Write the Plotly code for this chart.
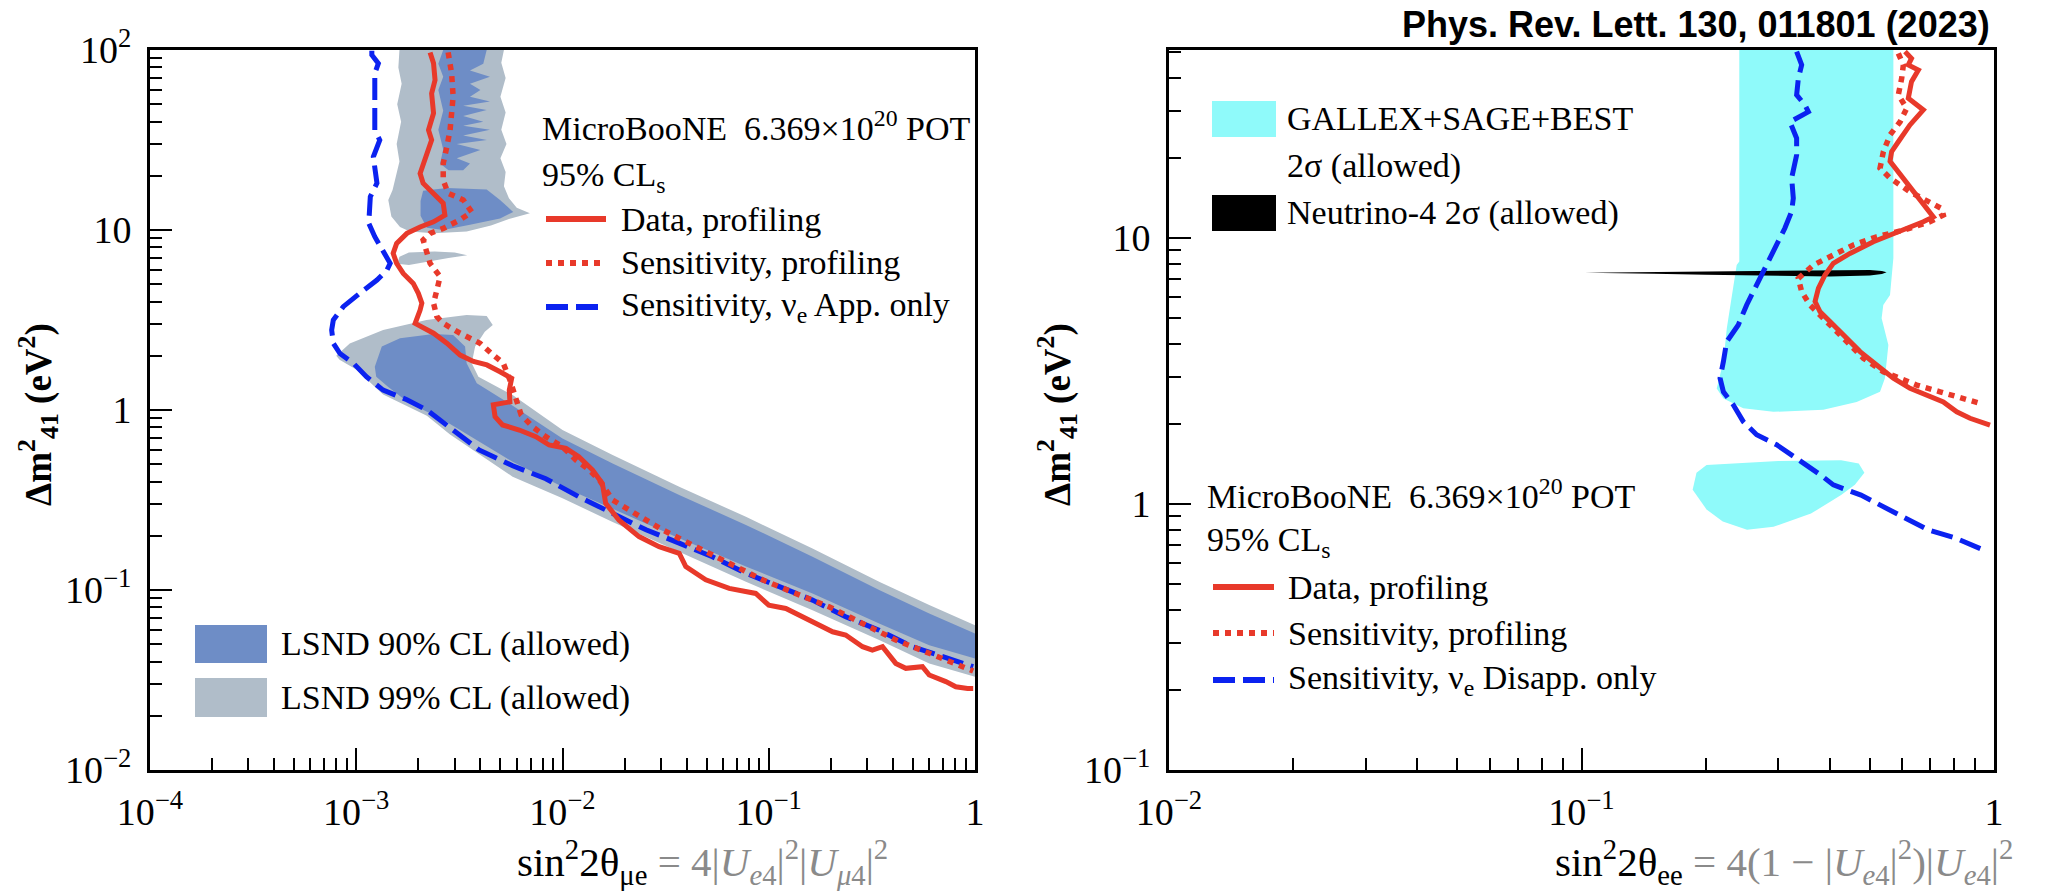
import plotly.graph_objects as go

W, H = 2054, 893
SERIF = "Liberation Serif"
RED = "#e8392a"
BLUE = "#0b22f0"
C90 = "#6e8dc6"
C99 = "#b0bdc9"
CYAN = "#8ffafa"

# ---------------- Left panel data (appearance) ----------------
lsnd99_band_x = [8.0e-4, 9.3e-4, 1.35e-3, 2.19e-3, 3.43e-3, 4.29e-3, 4.59e-3, 4.2e-3, 3.77e-3, 3.63e-3, 3.91e-3,
                 5.73e-3, 1e-2, 1.75e-2, 3.68e-2, 7.75e-2, 0.163, 0.343, 0.6, 1.0,
                 1.0, 0.6, 0.343, 0.163, 7.75e-2, 3.68e-2, 1.75e-2, 1e-2, 5.73e-3, 2.85e-3, 2.2e-3, 1.35e-3, 1.0e-3, 8.3e-4]
lsnd99_band_y = [2.0, 2.34, 2.78, 3.16, 3.37, 3.33, 2.97, 2.72, 2.25, 1.82, 1.53,
                 1.21, 0.774, 0.562, 0.375, 0.255, 0.170, 0.111, 0.0826, 0.0638,
                 0.033, 0.0391, 0.0527, 0.0773, 0.111, 0.163, 0.239, 0.323, 0.426, 0.73, 0.93, 1.22, 1.68, 1.9]

lsnd99_col_x = [1.62e-3, 1.60e-3, 1.66e-3, 1.58e-3, 1.65e-3, 1.57e-3, 1.62e-3, 1.55e-3, 1.50e-3, 1.43e-3, 1.48e-3,
                1.63e-3, 1.82e-3, 2.37e-3, 3.43e-3, 4.5e-3, 5.5e-3, 6.95e-3, 6.0e-3, 5.5e-3, 5.2e-3, 5.3e-3,
                5.0e-3, 5.35e-3, 5.05e-3, 5.3e-3, 5.0e-3, 5.3e-3, 5.05e-3, 5.2e-3]
lsnd99_col_y = [100, 80, 65, 50, 40, 30, 24, 19, 16.7, 14.7, 11.9,
                10.4, 9.8, 9.6, 9.8, 10.6, 11.5, 12.4, 13.3, 15, 17.5, 21,
                25, 30, 36, 45, 55, 70, 85, 100]

lsnd99_isl_x = [1.58e-3, 1.62e-3, 1.8e-3, 2.4e-3, 3.0e-3, 3.45e-3, 2.8e-3, 2.2e-3, 1.8e-3]
lsnd99_isl_y = [6.5, 7.1, 7.5, 7.6, 7.5, 7.25, 7.0, 6.7, 6.4]

lsnd90_band_x = [1.23e-3, 1.33e-3, 1.63e-3, 2.37e-3, 2.95e-3, 3.37e-3, 3.43e-3, 3.84e-3, 5.5e-3, 1e-2, 1.75e-2,
                 3.68e-2, 7.75e-2, 0.163, 0.343, 0.6, 1.0,
                 1.0, 0.6, 0.343, 0.163, 7.75e-2, 3.68e-2, 1.75e-2, 1e-2, 5.73e-3, 2.71e-3, 1.77e-3, 1.43e-3, 1.25e-3]
lsnd90_band_y = [1.74, 2.25, 2.5, 2.64, 2.61, 2.25, 1.82, 1.41, 1.09, 0.695, 0.505,
                 0.337, 0.23, 0.153, 0.1, 0.0741, 0.0574,
                 0.0417, 0.0494, 0.0652, 0.0957, 0.135, 0.194, 0.284, 0.375, 0.516, 0.865, 1.11, 1.34, 1.53]

lsnd90_col_x = [2.64e-3, 2.5e-3, 2.64e-3, 2.5e-3, 2.64e-3, 2.5e-3, 2.64e-3, 2.55e-3, 2.8e-3,
                3.3e-3, 3.56e-3, 3.07e-3, 4.0e-3, 3.07e-3, 4.3e-3, 3.3e-3, 4.45e-3, 3.3e-3, 4.13e-3, 3.3e-3,
                4.29e-3, 3.3e-3, 4.45e-3, 3.56e-3, 4.0e-3, 3.56e-3, 4.45e-3, 3.56e-3, 4.13e-3, 4.29e-3]
lsnd90_col_y = [100, 84, 71, 60, 46, 36, 28, 23.4, 21.5,
                21.5, 23.4, 25, 27.8, 30, 31.6, 33.5, 36, 38, 40, 43,
                46.4, 49, 51.7, 55, 60, 65, 71, 77, 84, 100]

lsnd90_blob_x = [2.11e-3, 2.75e-3, 4.29e-3, 4.98e-3, 5.77e-3, 4.98e-3, 3.56e-3, 2.64e-3, 2.2e-3, 2.05e-3, 2.05e-3]
lsnd90_blob_y = [16.5, 17.1, 16.8, 14.7, 12.6, 11.6, 10.7, 10.0, 10.3, 12.0, 14.5]

app_data_x = [2.28e-3, 2.37e-3, 2.41e-3, 2.32e-3, 2.37e-3, 2.24e-3, 2.32e-3, 2.16e-3, 2.04e-3, 2.11e-3, 2.37e-3,
              2.64e-3, 2.69e-3, 2.37e-3, 2.04e-3, 1.76e-3, 1.57e-3, 1.51e-3, 1.57e-3, 1.69e-3, 1.89e-3, 2.0e-3,
              2.08e-3, 2.04e-3, 1.93e-3, 2.11e-3, 2.37e-3, 2.75e-3, 3.19e-3, 3.7e-3, 4.3e-3, 4.98e-3, 5.67e-3,
              5.52e-3, 5.56e-3, 4.62e-3, 4.71e-3, 5.12e-3, 6.17e-3, 7.43e-3, 8.61e-3, 1.04e-2, 1.2e-2, 1.4e-2,
              1.56e-2, 1.62e-2, 1.88e-2, 2.35e-2, 2.94e-2, 3.68e-2, 3.96e-2, 4.95e-2, 6.43e-2, 8.65e-2, 0.1,
              0.121, 0.163, 0.204, 0.236, 0.285, 0.318, 0.356, 0.413, 0.462, 0.556, 0.6, 0.722, 0.807, 0.92, 0.98]
app_data_y = [97, 84.3, 68.1, 57.4, 44.5, 35.9, 31.6, 25.5, 20.6, 18.2, 16.0,
              14.1, 12.1, 11.1, 10.4, 9.58, 8.43, 7.42, 6.53, 5.74, 5.05, 4.45,
              3.92, 3.59, 3.03, 2.85, 2.67, 2.35, 2.02, 1.86, 1.78, 1.63, 1.50,
              1.29, 1.11, 1.07, 0.918, 0.826, 0.774, 0.711, 0.639, 0.612, 0.55, 0.464,
              0.391, 0.303, 0.244, 0.198, 0.174, 0.16, 0.135, 0.114, 0.102, 0.0957, 0.0824,
              0.079, 0.0667, 0.0586, 0.0562, 0.0484, 0.0464, 0.0484, 0.0391, 0.0367, 0.0375, 0.0337, 0.031, 0.029, 0.0284, 0.0284]

app_sens_x = [2.79e-3, 2.9e-3, 2.95e-3, 2.9e-3, 2.85e-3, 2.75e-3, 2.64e-3, 2.64e-3, 2.79e-3, 3.3e-3, 3.63e-3,
              3.19e-3, 2.64e-3, 2.28e-3, 2.11e-3, 2.28e-3, 2.55e-3, 2.46e-3, 2.37e-3, 2.46e-3, 2.64e-3, 3.19e-3,
              3.98e-3, 4.62e-3, 5.16e-3, 5.56e-3, 5.89e-3, 6.3e-3, 7.16e-3, 8.3e-3, 1e-2, 1.16e-2, 1.35e-2,
              1.51e-2, 1.75e-2, 2.1e-2, 3.05e-2, 4.43e-2, 6.43e-2, 9.33e-2, 0.135, 0.196, 0.285, 0.413, 0.6, 0.904, 0.98]
app_sens_y = [97, 74.1, 55.1, 44.5, 35.9, 29.0, 23.4, 18.9, 16.0, 14.7, 12.6,
              11.4, 10.2, 9.58, 8.8, 6.53, 5.5, 4.64, 3.92, 3.3, 3.03, 2.67,
              2.35, 2.02, 1.82, 1.47, 1.19, 0.94, 0.807, 0.711, 0.625, 0.528, 0.464,
              0.408, 0.316, 0.278, 0.216, 0.174, 0.14, 0.114, 0.0957, 0.0807, 0.0652, 0.0527, 0.0445, 0.0367, 0.0355]

app_only_x = [1.19e-3, 1.19e-3, 1.28e-3, 1.23e-3, 1.23e-3, 1.30e-3, 1.21e-3, 1.26e-3, 1.17e-3, 1.15e-3, 1.23e-3,
              1.35e-3, 1.46e-3, 1.41e-3, 1.26e-3, 1.04e-3, 8.65e-4, 7.74e-4, 7.6e-4, 7.74e-4, 8.34e-4, 9.68e-4,
              1.12e-3, 1.35e-3, 1.76e-3, 2.2e-3, 2.85e-3, 3.94e-3, 5.73e-3, 8.3e-3, 1.2e-2, 1.75e-2, 2.54e-2,
              3.68e-2, 5.33e-2, 7.75e-2, 0.112, 0.163, 0.236, 0.343, 0.498, 0.904, 0.98]
app_only_y = [99, 93.8, 84.3, 74.1, 35.9, 31.6, 25.5, 18.2, 15.3, 10.9, 9.18,
              7.74, 6.53, 6.0, 5.27, 4.45, 3.75, 3.16, 2.78, 2.35, 2.06, 1.82,
              1.53, 1.29, 1.14, 1.0, 0.79, 0.60, 0.49, 0.415, 0.33, 0.267, 0.216,
              0.182, 0.153, 0.124, 0.104, 0.0879, 0.071, 0.0598, 0.0484, 0.0391, 0.0375]

# ---------------- Right panel data (disappearance) ----------------
gallex_main_x = [0.2413, 0.2413, 0.2378, 0.2313, 0.2250, 0.2208, 0.2147, 0.2127, 0.2208, 0.2467, 0.2917,
                 0.3857, 0.4645, 0.5293, 0.544, 0.5545, 0.534, 0.539, 0.5597, 0.565, 0.5702, 0.5702]
gallex_main_y = [51, 8.15, 7.91, 5.93, 4.57, 3.43, 2.88, 2.72, 2.49, 2.29, 2.22,
                 2.26, 2.42, 2.64, 2.97, 3.96, 4.99, 5.6, 6.11, 7.05, 8.39, 51]

gallex_low_x = [0.201, 0.30, 0.426, 0.47, 0.485, 0.46, 0.426, 0.36, 0.292, 0.252, 0.22, 0.201, 0.186, 0.19]
gallex_low_y = [1.40, 1.45, 1.46, 1.42, 1.31, 1.18, 1.08, 0.92, 0.821, 0.80, 0.86, 0.953, 1.13, 1.31]

n4_x = [0.102, 0.15, 0.2, 0.3, 0.4, 0.5, 0.535, 0.549, 0.535, 0.5, 0.4, 0.3, 0.2, 0.15]
n4_y = [7.40, 7.45, 7.5, 7.55, 7.59, 7.58, 7.52, 7.43, 7.32, 7.22, 7.17, 7.2, 7.28, 7.34]

dis_data_x = [0.6085, 0.631, 0.6198, 0.6555, 0.631, 0.6198, 0.674, 0.6256, 0.5862, 0.5647, 0.5597, 0.5917,
              0.631, 0.674, 0.7126, 0.674, 0.5917, 0.5099, 0.4476, 0.4078, 0.3893, 0.3752, 0.3683, 0.3787,
              0.4003, 0.4311, 0.4734, 0.5194, 0.5702, 0.6256, 0.6995, 0.7537, 0.8121, 0.8746, 0.9779]
dis_data_y = [50.2, 47.3, 44.7, 42.8, 38.7, 33.5, 30.3, 26.6, 23.0, 21.1, 19.4, 17.3,
              15.4, 13.3, 12.0, 11.5, 10.6, 9.68, 8.75, 8.03, 7.26, 6.47, 5.77, 5.28,
              4.85, 4.32, 3.74, 3.33, 2.97, 2.72, 2.53, 2.42, 2.22, 2.10, 1.98]

dis_sens_x = [0.5862, 0.6029, 0.5973, 0.5862, 0.6142, 0.5917, 0.5597, 0.5392, 0.5293, 0.5597, 0.6256,
              0.6995, 0.7466, 0.7537, 0.6995, 0.6029, 0.5194, 0.456, 0.4078, 0.3648, 0.3355, 0.3418,
              0.3579, 0.3787, 0.4078, 0.4392, 0.4824, 0.5392, 0.5917, 0.6495, 0.7399, 0.8121, 0.9249]
dis_sens_y = [49.4, 44.7, 39.8, 34.5, 30.7, 27.3, 24.4, 21.1, 18.3, 16.8, 14.9,
              13.7, 12.9, 12.2, 11.5, 10.7, 10.1, 9.41, 8.63, 7.91, 7.05, 6.28,
              5.6, 5.14, 4.57, 4.07, 3.53, 3.14, 2.97, 2.80, 2.64, 2.53, 2.39]

dis_only_x = [0.3323, 0.3418, 0.3355, 0.3323, 0.3481, 0.3548, 0.3202, 0.3323, 0.3323, 0.3232, 0.3262,
              0.3232, 0.3113, 0.2917, 0.2759, 0.2658, 0.2514, 0.2399, 0.2248, 0.2208, 0.2167, 0.2208,
              0.2333, 0.2467, 0.2658, 0.2972, 0.3323, 0.3787, 0.4078, 0.476, 0.574, 0.692, 0.805, 0.936]
dis_only_y = [50.2, 44.7, 39.8, 34.5, 31.6, 29.8, 27.3, 23.7, 20.5, 16.8, 14.1,
              12.6, 10.9, 8.88, 7.46, 6.65, 5.6, 4.71, 4.07, 3.43, 2.97, 2.64,
              2.36, 2.04, 1.82, 1.67, 1.49, 1.29, 1.18, 1.08, 0.929, 0.80, 0.745, 0.675]

left_xticks = [1e-4, 1e-3, 1e-2, 1e-1, 1]
left_xlabels = ["10<sup>\u22124</sup>", "10<sup>\u22123</sup>", "10<sup>\u22122</sup>", "10<sup>\u22121</sup>", "1"]
left_yticks = [1e-2, 1e-1, 1, 10, 100]
left_ylabels = ["10<sup>\u22122</sup>", "10<sup>\u22121</sup>", "1", "10", "10<sup>2</sup>"]
right_xticks = [1e-2, 1e-1, 1]
right_xlabels = ["10<sup>\u22122</sup>", "10<sup>\u22121</sup>", "1"]
right_yticks = [0.1, 1, 10]
right_ylabels = ["10<sup>\u22121</sup>", "1", "10"]


def fx(p):
    return p / W


def fy(p):
    return 1 - p / H


fig = go.Figure()


def poly(x, y, color, xa, ya):
    fig.add_trace(go.Scatter(x=x, y=y, fill="toself", fillcolor=color, mode="lines",
                             line=dict(width=0, color=color), hoverinfo="skip",
                             showlegend=False, xaxis=xa, yaxis=ya))


def curve(x, y, color, dash, width, xa, ya):
    fig.add_trace(go.Scatter(x=x, y=y, mode="lines", line=dict(color=color, width=width, dash=dash),
                             hoverinfo="skip", showlegend=False, xaxis=xa, yaxis=ya))


DOT = "6px,6px"
DASH = "22px,8px"

# left panel
poly(lsnd99_band_x, lsnd99_band_y, C99, "x", "y")
poly(lsnd99_col_x, lsnd99_col_y, C99, "x", "y")
poly(lsnd99_isl_x, lsnd99_isl_y, C99, "x", "y")
poly(lsnd90_band_x, lsnd90_band_y, C90, "x", "y")
poly(lsnd90_col_x, lsnd90_col_y, C90, "x", "y")
poly(lsnd90_blob_x, lsnd90_blob_y, C90, "x", "y")
curve(app_only_x, app_only_y, BLUE, DASH, 5, "x", "y")
curve(app_sens_x, app_sens_y, RED, DOT, 5.5, "x", "y")
curve(app_data_x, app_data_y, RED, "solid", 5, "x", "y")

# right panel
poly(gallex_main_x, gallex_main_y, CYAN, "x2", "y2")
poly(gallex_low_x, gallex_low_y, CYAN, "x2", "y2")
poly(n4_x, n4_y, "black", "x2", "y2")
curve(dis_only_x, dis_only_y, BLUE, DASH, 5, "x2", "y2")
curve(dis_sens_x, dis_sens_y, RED, DOT, 5.5, "x2", "y2")
curve(dis_data_x, dis_data_y, RED, "solid", 5, "x2", "y2")


def minor_vals(lo, hi):
    out = []
    for e in range(lo, hi):
        for k in range(2, 10):
            out.append(k * 10.0 ** e)
    return out


def axis(domain, rng, tv, tt, minor, anchor, standoff):
    return dict(type="log", domain=domain, range=rng, anchor=anchor, automargin=False,
                showline=True, linecolor="black", linewidth=3, mirror=True,
                ticks="inside", ticklen=22, tickwidth=2, tickcolor="black",
                tickvals=tv, ticktext=tt,
                minor=dict(ticks="inside", ticklen=12, tickwidth=2, tickcolor="black", tickvals=minor),
                showgrid=False, zeroline=False, ticklabelstandoff=standoff,
                tickfont=dict(family=SERIF, size=38, color="black"))


ydom = [fy(770), fy(50)]
fig.update_layout(
    template="none",
    width=W, height=H, margin=dict(l=0, r=0, t=0, b=0, pad=0, autoexpand=False),
    paper_bgcolor="white", plot_bgcolor="white", showlegend=False,
    xaxis=axis([fx(150), fx(975)], [-4, 0], left_xticks, left_xlabels, minor_vals(-4, 0), "y", 6),
    yaxis=axis(ydom, [-2, 2], left_yticks, left_ylabels, minor_vals(-2, 2), "x", 8),
    xaxis2=axis([fx(1169), fx(1994)], [-2, 0], right_xticks, right_xlabels, minor_vals(-2, 0), "y2", 6),
    yaxis2=axis(ydom, [-1, 1.7066], right_yticks, right_ylabels, minor_vals(-1, 1) + [20, 30, 40, 50], "x2", 8),
)

shapes = []
ann = []


def text(x, y, s, size=34, anchor="left", color="black", family=SERIF, angle=0):
    ann.append(dict(x=fx(x), y=fy(y), xref="paper", yref="paper", text=s, showarrow=False,
                    xanchor=anchor, yanchor="middle", textangle=angle, borderpad=0,
                    font=dict(family=family, size=size, color=color)))


def lsample(x0, x1, y, color, dash):
    shapes.append(dict(type="line", xref="paper", yref="paper", x0=fx(x0), x1=fx(x1), y0=fy(y), y1=fy(y),
                       line=dict(color=color, width=6, dash=dash)))


def box(x0, x1, y0, y1, color):
    shapes.append(dict(type="rect", xref="paper", yref="paper", x0=fx(x0), x1=fx(x1), y0=fy(y1), y1=fy(y0),
                       fillcolor=color, line=dict(width=0), layer="above"))


# Left legend
text(541, 126, "MicroBooNE  6.369\u00d710<sup>20</sup> POT")
text(541, 177, "95% CL<sub>s</sub>")
lsample(546, 606, 219, RED, "solid")
lsample(546, 606, 263, RED, DOT)
lsample(546, 606, 307, BLUE, DASH)
text(620, 219, "Data, profiling")
text(620, 263, "Sensitivity, profiling")
text(620, 307, "Sensitivity, \u03bd<sub>e</sub> App. only")
box(195, 267, 625, 663, C90)
box(195, 267, 678, 717, C99)
text(280, 644, "LSND 90% CL (allowed)")
text(280, 698, "LSND 99% CL (allowed)")

# Right legend
box(1212, 1276, 101, 137, CYAN)
box(1212, 1276, 195, 231, "black")
text(1286, 119, "GALLEX+SAGE+BEST")
text(1286, 166, "2\u03c3 (allowed)")
text(1286, 213, "Neutrino-4 2\u03c3 (allowed)")
text(1206, 494, "MicroBooNE  6.369\u00d710<sup>20</sup> POT")
text(1206, 542, "95% CL<sub>s</sub>")
lsample(1213, 1274, 587, RED, "solid")
lsample(1213, 1274, 633, RED, DOT)
lsample(1213, 1274, 680, BLUE, DASH)
text(1287, 587, "Data, profiling")
text(1287, 633, "Sensitivity, profiling")
text(1287, 680, "Sensitivity, \u03bd<sub>e</sub> Disapp. only")

# Titles
text(1991, 24, "<b>Phys. Rev. Lett. 130, 011801 (2023)</b>", size=36, anchor="right", family="Liberation Sans")
ytitle = "<b>\u0394m<sup>2</sup><sub>41</sub> (eV<sup>2</sup>)</b>"
text(38, 415, ytitle, size=37, anchor="center", angle=-90)
text(1057, 415, ytitle, size=37, anchor="center", angle=-90)
GR = "#8a8a8a"
xt_left = ("sin<sup>2</sup>2\u03b8<sub>\u03bce</sub> <span style='color:%s'>= 4|<i>U</i><sub><i>e</i>4</sub>|<sup>2</sup>"
           "|<i>U</i><sub><i>\u03bc</i>4</sub>|<sup>2</sup></span>" % GR)
xt_right = ("sin<sup>2</sup>2\u03b8<sub>ee</sub> <span style='color:%s'>= 4(1 \u2212 |<i>U</i><sub><i>e</i>4</sub>|<sup>2</sup>)"
            "|<i>U</i><sub><i>e</i>4</sub>|<sup>2</sup></span>" % GR)
text(702, 862, xt_left, size=41, anchor="center")
text(1784, 862, xt_right, size=41, anchor="center")

fig.update_layout(shapes=shapes, annotations=ann)
fig.write_html("out.html")
